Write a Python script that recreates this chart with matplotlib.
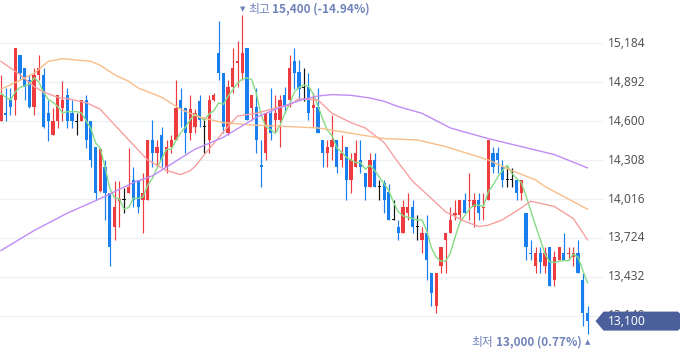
import matplotlib
matplotlib.use('Agg')
import matplotlib.pyplot as plt
import numpy as np
import pandas as pd
from matplotlib.patches import Polygon
from matplotlib.transforms import IdentityTransform

plt.rcParams['font.family'] = ['Noto Sans CJK KR', 'DejaVu Sans']

# ---------------- data ----------------
opens = [14600, 14660, 14760, 14760, 15100, 15000, 14910, 14710, 14950, 14950,
         14660, 14500, 14600, 14700, 14800, 14660, 14600, 14600, 14760, 14600,
         14410, 14080, 14260, 14060, 13810, 14000, 14010, 14060, 14160, 14160,
         14010, 14010, 14460, 14360, 14500, 14260, 14410, 14460, 14760, 14700,
         14510, 14560, 14750, 14560, 14460, 14760, 15110, 14960, 14510, 14860,
         15040, 14960, 15150, 14700, 14710, 14270, 14360, 14660, 14610, 14610,
         14800, 14760, 15050, 14970, 14850, 14860, 14700, 14710, 14460, 14360,
         14410, 14460, 14310, 14410, 14160, 14260, 14310, 14210, 14110, 14310,
         14110, 14140, 14070, 13860, 13810, 13760, 13910, 13960, 13810, 13710,
         13760, 13460, 13210, 13510, 13710, 13760, 13900, 13900, 14010, 14000,
         13960, 14010, 13950, 14010, 14360, 14360, 14260, 14160, 14160, 14160,
         14060, 13910, 13610, 13510, 13610, 13510, 13660, 13410, 13560, 13610,
         13600, 13580, 13610, 13410, 13160]
highs = [14950, 14850, 14850, 15150, 15100, 15000, 14950, 15000, 15100, 15000,
         14760, 14700, 14800, 14900, 14850, 14760, 14660, 14760, 14800, 14600,
         14410, 14400, 14310, 14060, 14150, 14150, 14100, 14400, 14260, 14160,
         14210, 14460, 14610, 14460, 14560, 14460, 14500, 14910, 14850, 14700,
         14800, 14690, 14800, 14630, 14800, 14810, 15350, 14960, 14910, 15150,
         15200, 15400, 15150, 14800, 14850, 14460, 14660, 14850, 14800, 14800,
         14860, 15100, 15150, 15060, 15000, 14960, 14810, 14850, 14460, 14460,
         14650, 14460, 14500, 14410, 14360, 14460, 14460, 14210, 14360, 14360,
         14160, 14160, 14130, 14010, 13860, 14010, 14060, 14010, 13900, 13810,
         13900, 13460, 13460, 13660, 13760, 13960, 14010, 14010, 14060, 14210,
         14060, 14060, 14060, 14460, 14410, 14410, 14310, 14260, 14250, 14160,
         14160, 13910, 13710, 13660, 13660, 13660, 13660, 13630, 13660, 13760,
         13660, 13660, 13710, 13460, 13210]
lows = [14600, 14600, 14650, 14650, 14910, 14760, 14700, 14650, 14910, 14550,
        14450, 14500, 14550, 14600, 14550, 14550, 14500, 14600, 14400, 14260,
        14010, 14070, 13860, 13510, 13710, 13810, 13910, 14060, 13960, 13910,
        13760, 14010, 14260, 14260, 14260, 14210, 14360, 14460, 14560, 14360,
        14460, 14510, 14560, 14360, 14360, 14750, 14910, 14510, 14500, 14810,
        14860, 14910, 14610, 14610, 14360, 14110, 14310, 14460, 14510, 14410,
        14660, 14710, 14840, 14760, 14750, 14610, 14560, 14510, 14260, 14260,
        14310, 14210, 14260, 14010, 14060, 14260, 14210, 14010, 14110, 14110,
        14010, 13910, 13860, 13860, 13710, 13760, 13860, 13760, 13710, 13610,
        13410, 13210, 13160, 13460, 13460, 13760, 13860, 13860, 13910, 13860,
        13810, 13860, 13860, 14010, 14210, 14210, 14110, 14110, 14110, 14010,
        14010, 13560, 13560, 13460, 13460, 13460, 13360, 13360, 13560, 13560,
        13560, 13510, 13460, 13060, 13000]
closes = [14800, 14650, 14710, 15150, 14960, 14860, 14710, 14950, 15000, 14560,
          14600, 14600, 14800, 14760, 14600, 14600, 14600, 14760, 14460, 14310,
          14060, 14390, 14060, 13660, 13960, 14020, 14010, 14110, 14010, 13960,
          14060, 14460, 14360, 14410, 14310, 14410, 14460, 14700, 14700, 14510,
          14690, 14660, 14610, 14560, 14760, 14800, 14960, 14560, 14860, 15000,
          15050, 15110, 14610, 14800, 14460, 14260, 14660, 14510, 14660, 14760,
          14710, 15000, 14960, 14840, 14850, 14660, 14720, 14510, 14360, 14410,
          14460, 14260, 14360, 14160, 14310, 14360, 14260, 14110, 14310, 14110,
          14110, 14010, 13860, 13860, 13760, 13960, 13960, 13810, 13810, 13760,
          13560, 13310, 13460, 13660, 13760, 13860, 13910, 14010, 13910, 14010,
          14010, 13910, 13960, 14460, 14260, 14310, 14160, 14160, 14160, 14060,
          14160, 13660, 13600, 13610, 13540, 13610, 13360, 13580, 13660, 13560,
          13610, 13610, 13460, 13160, 13100]

# MA5 values before the first full 5-day window
ma5_head = [14810, 14780, 14760, 14820]

ma20_idx = [0, 4, 7, 9, 12, 14, 18, 21, 22, 27, 31, 35, 38, 40, 41, 43, 47, 50, 54, 58,
            61, 63, 67, 70, 74, 77, 81, 84, 87, 91, 94, 98, 101, 103, 106, 110, 112,
            117, 121, 124]
ma20_val = [15050, 14950, 14860, 14820, 14780, 14770, 14740, 14690, 14650, 14460,
            14310, 14230, 14200, 14230, 14260, 14350, 14520, 14640, 14660, 14700,
            14720, 14770, 14760, 14660, 14590, 14550, 14440, 14290, 14150, 14020,
            13920, 13850, 13810, 13820, 13860, 13950, 14000, 13960, 13870, 13710]

ma60_idx = [0, 7, 10, 13, 19, 21, 24, 27, 29, 34, 38, 42, 47, 54, 61, 67, 74, 81, 88,
            94, 103, 108, 113, 115, 124]
ma60_val = [14840, 14960, 15050, 15070, 15050, 15020, 14950, 14900, 14850, 14780,
            14690, 14630, 14590, 14570, 14560, 14550, 14510, 14470, 14460, 14410,
            14310, 14230, 14160, 14110, 13940]

ma120_idx = [0, 7, 14, 21, 28, 32, 41, 47, 54, 58, 61, 64, 67, 70, 74, 78, 81, 84, 89,
             95, 103, 110, 117, 124]
ma120_val = [13630, 13780, 13910, 14020, 14140, 14190, 14390, 14480, 14630, 14690,
             14730, 14765, 14790, 14800, 14795, 14775, 14750, 14710, 14660, 14550,
             14470, 14410, 14350, 14250]

yticks = [13140, 13432, 13724, 14016, 14308, 14600, 14892, 15184]

# ---------------- style ----------------
RED = '#EE3B40'
BLUE = '#1A7FEE'
BLACK = '#111111'
C_MA5 = '#86DC86'
C_MA20 = '#F8A0A0'
C_MA60 = '#F9BD8A'
C_MA120 = '#C08CF6'
LABEL = '#6F82BB'
TAG = '#4A5F9C'

W, H = 680, 358
fig = plt.figure(figsize=(W / 100, H / 100), dpi=100)
fig.patch.set_facecolor('white')
plot_w = 603
ax = fig.add_axes([0, 0, plot_w / W, 1])
ax.set_xlim(-0.21, 127.27)
ax.set_ylim(12823, 15510.5)
ax.axis('off')

for v in yticks:
    ax.axhline(v, color='#EEF0F4', lw=1.0, zorder=0)
    ax.text(1 + 5 / plot_w, v, f'{v:,}', transform=ax.get_yaxis_transform(),
            ha='left', va='center', fontsize=8.6, color='#555555',
            family=['Noto Sans', 'DejaVu Sans'], clip_on=False)

o = np.array(opens, float)
h = np.array(highs, float)
l = np.array(lows, float)
c = np.array(closes, float)
x = np.arange(len(c))
cols = np.where(c > o, RED, np.where(c < o, BLUE, BLACK))

ax.vlines(x, l, h, colors=cols, lw=0.85, zorder=2)
min_h = 7.5
body = np.abs(c - o)
mid = (c + o) / 2
bottom = np.where(body < min_h, mid - min_h / 2, np.minimum(o, c))
height = np.maximum(body, min_h)
ax.bar(x, height, bottom=bottom, width=0.68, color=cols, linewidth=0, zorder=3)

ma5 = pd.Series(c).rolling(5).mean().to_numpy()
ma5[:4] = ma5_head
lw_ma = 1.0
ax.plot(x, ma5, color=C_MA5, lw=lw_ma, zorder=4)
ax.plot(ma20_idx, ma20_val, color=C_MA20, lw=lw_ma, zorder=4)
ax.plot(ma60_idx, ma60_val, color=C_MA60, lw=lw_ma, zorder=4)
ax.plot(ma120_idx, ma120_val, color=C_MA120, lw=lw_ma, zorder=4)

# high / low annotations
last = c[-1]
hi_i = int(np.argmax(h))
lo_i = int(np.argmin(l))
hi_pct = (last - h[hi_i]) / h[hi_i] * 100
lo_pct = (last - l[lo_i]) / l[lo_i] * 100

t_hi = ax.annotate('▼', xy=(hi_i, h[hi_i]), xytext=(0, 4), textcoords='offset points',
                   ha='center', va='center', fontsize=5, color=LABEL,
                   family=['DejaVu Sans'], annotation_clip=False)
t_hi2 = ax.annotate('최고', xy=(1, 0.5), xycoords=t_hi, xytext=(2.5, 0),
                    textcoords='offset points', ha='left', va='center',
                    fontsize=8.5, color=LABEL)
ax.annotate(f'{h[hi_i]:,.0f} ({hi_pct:.2f}%)', xy=(1, 0.5), xycoords=t_hi2,
            xytext=(1.5, 0), textcoords='offset points', ha='left', va='center',
            fontsize=8.5, color=LABEL, fontweight='bold')

t_lo = ax.annotate('▲', xy=(lo_i, l[lo_i]), xytext=(0, -5.5), textcoords='offset points',
                   ha='center', va='center', fontsize=5, color=LABEL,
                   family=['DejaVu Sans'], annotation_clip=False)
t_lo2 = ax.annotate(f'{l[lo_i]:,.0f} ({lo_pct:.2f}%)', xy=(0, 0.5), xycoords=t_lo,
                    xytext=(-2.5, 0), textcoords='offset points', ha='right', va='center',
                    fontsize=8.5, color=LABEL, fontweight='bold')
ax.annotate('최저', xy=(0, 0.5), xycoords=t_lo2, xytext=(-1.5, 0),
            textcoords='offset points', ha='right', va='center',
            fontsize=8.5, color=LABEL)

# current price tag
fig.canvas.draw()
yc = ax.transData.transform((0, last))[1]
xt = ax.transData.transform((len(c) - 1, last))[0] + 8
hh = 9.5
tag = Polygon([(xt, yc), (xt + 8, yc + hh), (W - 2, yc + hh), (W, yc + hh - 2),
               (W, yc - hh + 2), (W - 2, yc - hh), (xt + 8, yc - hh)],
              closed=True, facecolor=TAG, edgecolor='none',
              transform=IdentityTransform(), zorder=5)
fig.add_artist(tag)
fig.text(608 / W, yc / H, f'{last:,.0f}', ha='left', va='center', fontsize=8.8,
         color='white', family=['Noto Sans', 'DejaVu Sans'], zorder=6)

fig.savefig('out.png', dpi=100)
